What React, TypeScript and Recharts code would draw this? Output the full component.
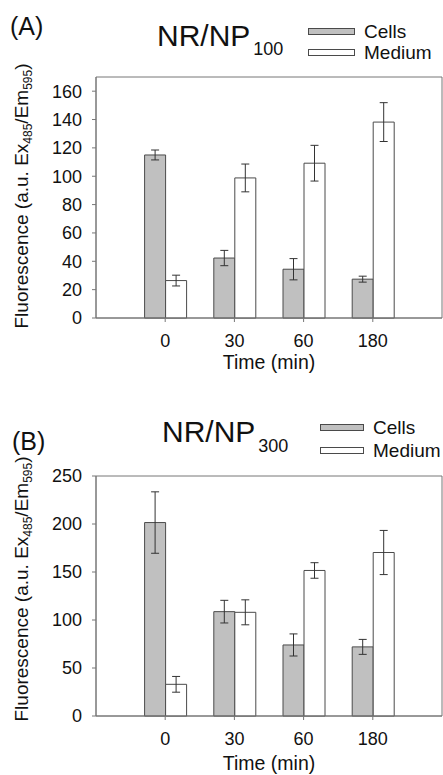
import React from "react";
import { Bar, BarChart, ErrorBar, Legend, ReferenceArea, XAxis, YAxis } from "recharts";

const times = ["0", "30", "60", "180"];

const cellsA = [115, 42.3, 34.4, 27.4];
const cellsErrA = [3.5, 5.4, 7.5, 2.1];
const mediumA = [26.4, 98.8, 109.2, 138.2];
const mediumErrA = [3.8, 9.8, 12.6, 13.7];
const ticksA = [0, 20, 40, 60, 80, 100, 120, 140, 160];

const cellsB = [201.5, 108.7, 74, 72];
const cellsErrB = [32, 11.8, 11.5, 7.8];
const mediumB = [33, 108, 151.6, 170.3];
const mediumErrB = [8.2, 13, 8.1, 23];
const ticksB = [0, 50, 100, 150, 200, 250];

const FONT = "'Liberation Sans', Arial, Helvetica, sans-serif";
const AXIS = "#777";
const GRAY = "#c0c0c0";
const EDGE = "#4a4a4a";

const seriesNames = ["Cells", "Medium"];
const seriesFills = [GRAY, "#ffffff"];

function buildRows(cells: number[], cellsErr: number[], medium: number[], mediumErr: number[]) {
  return times.map((t, i) => ({
    time: t,
    pos: i + 1,
    cells: cells[i],
    cellsErr: cellsErr[i],
    medium: medium[i],
    mediumErr: mediumErr[i],
  }));
}

type PanelProps = {
  letter: string;
  sub: string;
  rows: ReturnType<typeof buildRows>;
  yMax: number;
  yTicks: number[];
  height: number;
  plotTop: number;
  plotBottom: number;
  letterX: number;
  letterY: number;
  titleX: number;
  titleY: number;
  subDy: number;
  legendLeft: number;
  legendTop: number;
  legendSwatch: number;
  legendRow: number;
  labelCenter: number;
  timeLabelY: number;
};

const txt = { fontFamily: FONT };

function Panel(p: PanelProps) {
  const xAxisHeight = p.height - p.plotBottom;
  const legendContent = () => (
    <div style={{ fontFamily: FONT, fontSize: 19, color: "#111" }}>
      {seriesNames.map((n, i) => (
        <div key={n} style={{ display: "flex", alignItems: "center", height: p.legendRow }}>
          <span
            style={{
              display: "inline-block",
              width: p.legendSwatch,
              height: 5,
              background: seriesFills[i],
              border: `1px solid ${EDGE}`,
              marginRight: 9,
            }}
          />
          <span>{n}</span>
        </div>
      ))}
    </div>
  );

  return (
    <BarChart
      width={443}
      height={p.height}
      data={p.rows}
      margin={{ top: p.plotTop, right: 1, left: 0, bottom: 0 }}
      barGap={0}
      style={{ fontFamily: FONT }}
    >
      <XAxis
        type="number"
        dataKey="pos"
        domain={[0, 5]}
        ticks={[1, 2, 3, 4]}
        tickFormatter={(v: number) => times[v - 1]}
        height={xAxisHeight}
        tickSize={4}
        tickMargin={12}
        axisLine={{ stroke: AXIS }}
        tickLine={{ stroke: AXIS }}
        tick={{ fill: "#111", fontSize: 18, fontFamily: FONT }}
      />
      <YAxis
        type="number"
        domain={[0, p.yMax]}
        ticks={p.yTicks}
        interval={0}
        width={96}
        tickSize={4}
        tickMargin={10}
        axisLine={{ stroke: AXIS }}
        tickLine={{ stroke: AXIS }}
        tick={{ fill: "#111", fontSize: 18, fontFamily: FONT }}
      />
      <ReferenceArea x1={0} x2={5} y1={0} y2={p.yMax} fill="none" stroke={AXIS} ifOverflow="visible" />
      <Bar dataKey="cells" name="Cells" fill={GRAY} stroke={EDGE} barSize={21} isAnimationActive={false}>
        <ErrorBar dataKey="cellsErr" width={4} stroke="#333" strokeWidth={1} isAnimationActive={false} />
      </Bar>
      <Bar dataKey="medium" name="Medium" fill="#ffffff" stroke={EDGE} barSize={21} isAnimationActive={false}>
        <ErrorBar dataKey="mediumErr" width={4} stroke="#333" strokeWidth={1} isAnimationActive={false} />
      </Bar>
      <Legend
        layout="vertical"
        align="center"
        verticalAlign="middle"
        content={legendContent}
        wrapperStyle={{ left: p.legendLeft, top: p.legendTop, width: "auto", bottom: "auto" }}
      />
      <text x={p.letterX} y={p.letterY} fontSize={25} fill="#111" style={txt}>
        ({p.letter})
      </text>
      <text x={p.titleX} y={p.titleY} fontSize={30} fill="#111" style={txt}>
        NR/NP
        <tspan fontSize={18} dx={3} dy={p.subDy} style={txt}>
          {p.sub}
        </tspan>
      </text>
      <text
        transform="rotate(-90)"
        x={-p.labelCenter}
        y={28}
        textAnchor="middle"
        fontSize={19}
        fill="#111"
        style={txt}
      >
        Fluorescence (a.u. Ex
        <tspan fontSize={12} dy={4}>
          485
        </tspan>
        <tspan dy={-4}>/Em</tspan>
        <tspan fontSize={12} dy={4}>
          595
        </tspan>
        <tspan dy={-4}>)</tspan>
      </text>
      <text x={269} y={p.timeLabelY} textAnchor="middle" fontSize={19.5} fill="#111" style={txt}>
        Time (min)
      </text>
    </BarChart>
  );
}

export default function App() {
  const rowsA = buildRows(cellsA, cellsErrA, mediumA, mediumErrA);
  const rowsB = buildRows(cellsB, cellsErrB, mediumB, mediumErrB);
  return (
    <div style={{ position: "absolute", left: 0, top: 0, width: 443, height: 775, background: "#fff" }}>
      <Panel
        letter="A"
        sub="100"
        rows={rowsA}
        yMax={170}
        yTicks={ticksA}
        height={388}
        plotTop={77}
        plotBottom={318}
        letterX={10}
        letterY={35}
        titleX={157}
        titleY={46}
        subDy={9}
        legendLeft={308}
        legendTop={21}
        legendSwatch={45}
        legendRow={21}
        labelCenter={196}
        timeLabelY={369}
      />
      <Panel
        letter="B"
        sub="300"
        rows={rowsB}
        yMax={250}
        yTicks={ticksB}
        height={387}
        plotTop={88}
        plotBottom={328}
        letterX={12}
        letterY={62}
        titleX={162}
        titleY={54}
        subDy={10}
        legendLeft={320}
        legendTop={28}
        legendSwatch={42}
        legendRow={23}
        labelCenter={201}
        timeLabelY={382}
      />
    </div>
  );
}
